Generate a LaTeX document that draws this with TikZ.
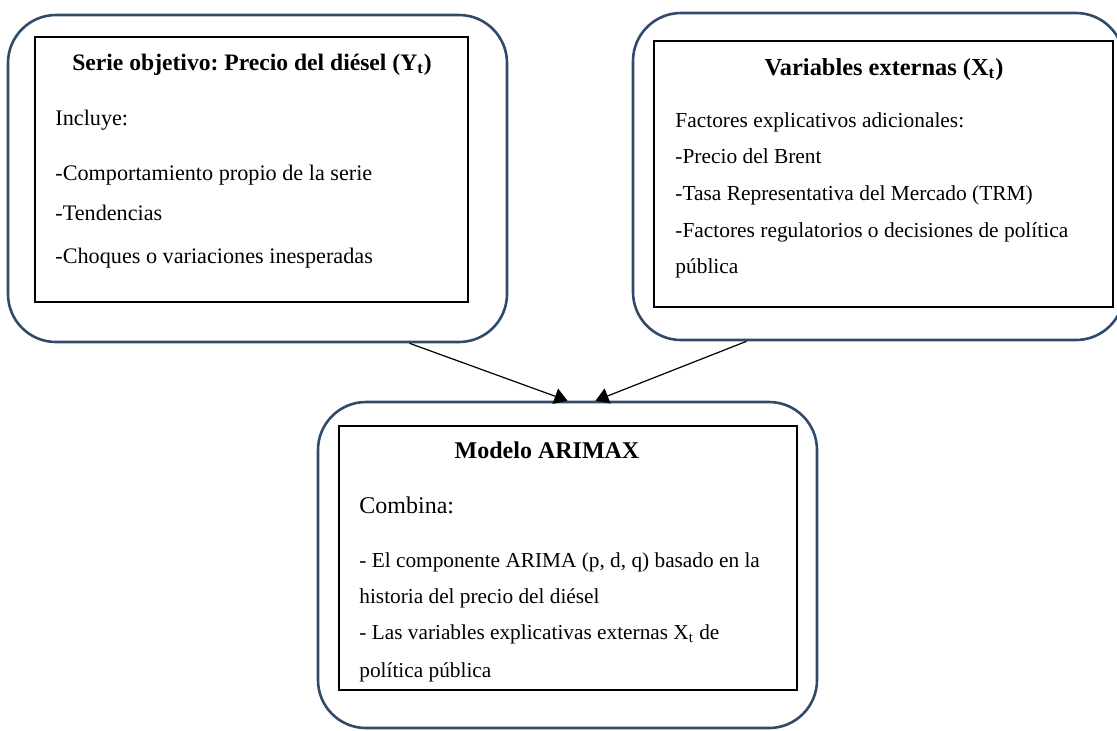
\documentclass[tikz,border=0pt]{standalone}
\usepackage{fontspec}
\setmainfont{Liberation Serif}
\usetikzlibrary{arrows.meta}

\definecolor{borde}{HTML}{2F4B69}

\tikzset{
  marco/.style={draw=borde, line width=1.3pt, rounded corners=24pt, inner sep=0pt},
  caja/.style={draw=black, line width=0.9pt, inner sep=0pt},
  titulo/.style={anchor=base, inner sep=0pt, font=\bfseries\fontsize{#1}{14}\selectfont},
  texto/.style={anchor=base west, inner sep=0pt, font=\fontsize{#1}{14}\selectfont},
  flecha/.style={line width=0.6pt, -{Triangle[length=6.5pt, width=8pt]}}
}

\frenchspacing

\begin{document}
\begin{tikzpicture}[x=0.5pt, y=-0.5pt]
\useasboundingbox (0,0) rectangle (1117,730);

%% Marcos redondeados
\node[marco, minimum width=249.5pt, minimum height=163.5pt] (serie) at (257.5,178.5) {};
\node[marco, minimum width=245.5pt, minimum height=163.5pt] (externas) at (878.5,176.5) {};
\node[marco, minimum width=249.5pt, minimum height=163pt] (modelo) at (567.5,565) {};

%% Cajas interiores
\node[caja, minimum width=216.5pt, minimum height=132.5pt] (serieCaja) at (251.5,169.5) {};
\node[caja, minimum width=229.5pt, minimum height=133pt] (externasCaja) at (883.5,174) {};
\node[caja, minimum width=229pt, minimum height=132pt] (modeloCaja) at (568,558) {};

%% Serie objetivo
\node[titulo=11.8] (serieTit) at (252,70) {Serie objetivo: Precio del diésel (Y\textsubscript{t})};
\node[texto=11.1] (serieA) at (55,125) {Incluye:};
\node[texto=11.1] (serieB) at (55,180) {-Comportamiento propio de la serie};
\node[texto=11.1] (serieC) at (55,220) {-Tendencias};
\node[texto=11.1] (serieD) at (55,263) {-Choques o variaciones inesperadas};

%% Variables externas
\node[titulo=12.2] (extTit) at (884,75) {Variables externas (X\textsubscript{t})};
\node[texto=10.7] (extA) at (675,127) {Factores explicativos adicionales:};
\node[texto=10.7] (extB) at (675,163) {-Precio del Brent};
\node[texto=10.7] (extC) at (675,200) {-Tasa Representativa del Mercado (TRM)};
\node[texto=10.7] (extD) at (675,237) {-Factores regulatorios o decisiones de política};
\node[texto=10.7] (extE) at (675,273) {pública};

%% Modelo ARIMAX
\node[titulo=12] (modTit) at (547,458) {Modelo ARIMAX};
\node[texto=12] (modA) at (359,513) {Combina:};
\node[texto=10.65] (modB) at (359,567) {- El componente ARIMA (p, d, q) basado en la};
\node[texto=10.65] (modC) at (359,603) {historia del precio del diésel};
\node[texto=10.65] (modD) at (359,639) {- Las variables explicativas externas X\textsubscript{t} de};
\node[texto=10.65] (modE) at (359,677) {política pública};

%% Flechas
\draw[flecha] ([xshift=76pt]serie.south) -- (modelo.north);
\draw[flecha] ([xshift=-66pt]externas.south) -- ([xshift=14pt]modelo.north);

\end{tikzpicture}
\end{document}
